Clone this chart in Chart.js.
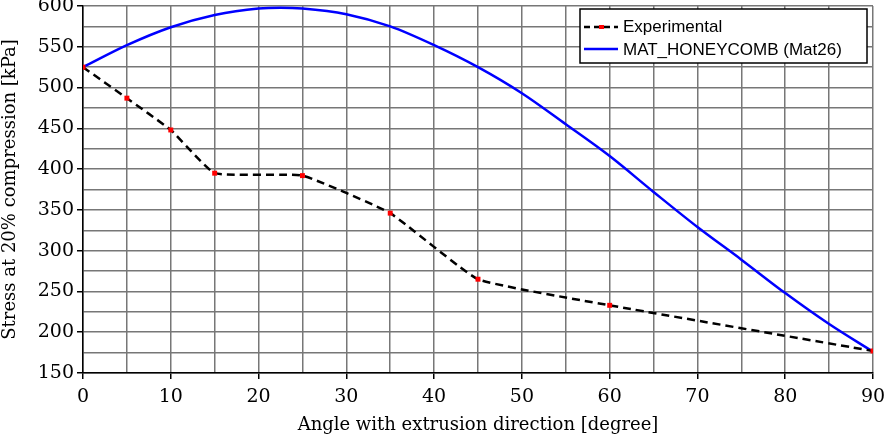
<!DOCTYPE html>
<html>
<head>
<meta charset="utf-8">
<script src="https://cdn.jsdelivr.net/npm/chart.js@4"></script>
<style>
  html, body { margin: 0; padding: 0; background: #fff; }
  #wrap { width: 887px; height: 444px; position: relative; }
</style>
</head>
<body>
<div id="wrap"><canvas id="chart"></canvas></div>
<script>
// === Data ===
const expAngles = [0, 5, 10, 15, 25, 35, 45, 60, 90];
const expStress = [525, 487, 448, 395, 392, 346, 265, 233, 177];

const modelAngles = [0, 5, 10, 15, 20, 22.5, 25, 30, 35, 40, 45, 50, 55, 60, 65, 70, 75, 80, 85, 90];
const modelStress = [525, 552, 574, 589, 597, 598, 597, 590, 575, 552, 525, 493, 455, 416, 372, 329, 289, 248, 210, 176];

const seriesNames = ['Experimental', 'MAT_HONEYCOMB (Mat26)'];

const serif = "'DejaVu Serif', 'Liberation Serif', serif";

// === Legend box drawn inside the plot, top right ===
const boxLegend = {
  id: 'boxLegend',
  afterDraw(chart) {
    const c = chart.ctx;
    const x0 = 580, y0 = 9, w = 287, h = 54;
    c.save();
    c.fillStyle = '#fff';
    c.fillRect(x0, y0, w, h);
    c.strokeStyle = '#000';
    c.lineWidth = 1.5;
    c.strokeRect(x0, y0, w, h);

    // experimental sample
    c.setLineDash([6, 4]);
    c.lineWidth = 2.5;
    c.beginPath();
    c.moveTo(584, 27);
    c.lineTo(618, 27);
    c.stroke();
    c.setLineDash([]);
    c.fillStyle = 'red';
    c.fillRect(599, 25, 5, 4);

    // model sample
    c.strokeStyle = '#0000ff';
    c.beginPath();
    c.moveTo(584, 49);
    c.lineTo(618, 49);
    c.stroke();

    c.fillStyle = '#000';
    c.font = "17px 'Liberation Sans', Arial, sans-serif";
    c.textBaseline = 'middle';
    c.fillText(seriesNames[0], 623, 27);
    c.fillText(seriesNames[1], 623, 50);
    c.restore();
  }
};

new Chart(document.getElementById('chart'), {
  type: 'line',
  data: {
    datasets: [
      {
        label: seriesNames[0],
        data: expAngles.map((x, i) => ({ x, y: expStress[i] })),
        borderColor: '#000',
        borderWidth: 2.5,
        borderDash: [8, 5],
        tension: 0.12,
        pointStyle: 'rect',
        pointRadius: 3.5,
        pointBackgroundColor: 'red',
        pointBorderWidth: 0,
        order: 1
      },
      {
        label: seriesNames[1],
        data: modelAngles.map((x, i) => ({ x, y: modelStress[i] })),
        borderColor: '#0000ff',
        borderWidth: 2.5,
        pointRadius: 0,
        tension: 0.4,
        cubicInterpolationMode: 'monotone',
        order: 2
      }
    ]
  },
  options: {
    responsive: true,
    maintainAspectRatio: false,
    animation: false,
    layout: { padding: { top: 6, right: 14, left: 0, bottom: 0 } },
    scales: {
      x: {
        type: 'linear',
        min: 0, max: 90,
        ticks: {
          stepSize: 5,
          autoSkip: false,
          maxRotation: 0,
          color: '#000',
          font: { family: serif, size: 19 },
          padding: 7,
          callback: v => (v % 10 === 0 ? v : '')
        },
        grid: {
          color: '#777',
          lineWidth: 1.5,
          tickLength: 6,
          tickColor: ctx => (ctx.tick && ctx.tick.value % 10 === 0 ? '#000' : 'rgba(0,0,0,0)')
        },
        border: { color: '#000', width: 1.5 },
        title: {
          display: true,
          text: 'Angle with extrusion direction [degree]',
          color: '#000',
          font: { family: serif, size: 18 },
          padding: { top: 0, bottom: 8 }
        },
        afterFit: s => { s.height = 71; s.paddingLeft = 0; s.paddingRight = 0; }
      },
      y: {
        min: 150, max: 600,
        ticks: {
          stepSize: 25,
          autoSkip: false,
          color: '#000',
          font: { family: serif, size: 19 },
          padding: 3,
          callback: v => (v % 50 === 0 ? v : '')
        },
        grid: {
          color: '#777',
          lineWidth: 1.5,
          tickLength: 6,
          tickColor: ctx => (ctx.tick && ctx.tick.value % 50 === 0 ? '#000' : 'rgba(0,0,0,0)')
        },
        border: { color: '#000', width: 1.5 },
        title: {
          display: true,
          text: 'Stress at 20% compression [kPa]',
          color: '#000',
          font: { family: serif, size: 18 },
          padding: { top: 0, bottom: 2 }
        },
        afterFit: s => { s.width = 83; s.paddingTop = 0; s.paddingBottom = 0; }
      }
    },
    plugins: {
      legend: { display: false },
      tooltip: { enabled: false }
    }
  },
  plugins: [boxLegend]
});
</script>
</body>
</html>
